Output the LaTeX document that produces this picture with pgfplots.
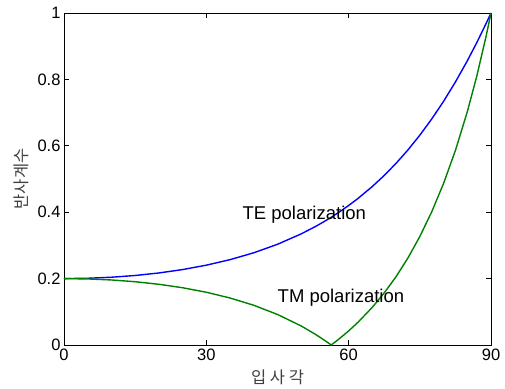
\documentclass[border=0pt]{standalone}
\usepackage{pgfplots}
\pgfplotsset{compat=1.18}
\usepackage{fontspec}
\setmainfont{Liberation Sans}
\newfontfamily\kr{Noto Sans CJK KR}
\begin{document}
\begin{tikzpicture}
\begin{axis}[
  name=ax,
  scale only axis, width=427pt, height=332pt,
  xmin=0, xmax=90, ymin=0, ymax=1,
  xtick={0,30,60,90}, ytick={0,0.2,0.4,0.6,0.8,1},
  yticklabels={0,0.2,0.4,0.6,0.8,1},
  tick align=inside, major tick length=5pt,
  xtick pos=both, ytick pos=both,
  tick style={black, line width=0.6pt},
  axis line style={line width=0.8pt},
  /pgf/number format/assume math mode=true,
  ticklabel style={font=\fontsize{16.5}{18}\selectfont},
  xlabel={\kr 입 사 각}, ylabel={\kr 반사계수},
  label style={font=\fontsize{16.5}{18}\selectfont, text=black!75},
  xlabel style={at={(axis description cs:0.5,-0.097)}, anchor=center},
  ylabel style={at={(axis description cs:-0.101,0.5)}, anchor=center},
  clip=false,
]
\addplot[blue, line width=1.4pt] coordinates {
(0,0.2) (5,0.20102) (10,0.20411) (15,0.20937) (20,0.21698) (25,0.22721) (30,0.24041)
(35,0.25706) (40,0.27777) (45,0.30334) (50,0.33474) (53,0.35688) (55,0.37319)
(56.31,0.38462) (58,0.40027) (60,0.42020) (62,0.44180) (65,0.47756) (67.5,0.51076)
(70,0.54735) (72.5,0.58765) (75,0.63195) (77.5,0.68059) (80,0.73389) (82.5,0.79218)
(85,0.85577) (87,0.91066) (89,0.96926) (90,1)
};
\addplot[black!50!green, line width=1.4pt] coordinates {
(0,0.2) (5,0.19898) (10,0.19589) (15,0.19060) (20,0.18290) (25,0.17248) (30,0.15890)
(35,0.14155) (40,0.11962) (45,0.09201) (50,0.05725) (53,0.03215) (55,0.01334)
(56.31,0) (58,0.01850) (60,0.04245) (62,0.06888) (65,0.11386) (67.5,0.15698)
(70,0.20613) (72.5,0.26232) (75,0.32675) (77.5,0.40091) (80,0.48663) (82.5,0.58616)
(85,0.70232) (87,0.80961) (89,0.93215) (90,1)
};
\node[font=\fontsize{18.5}{20}\selectfont, anchor=west, inner sep=0pt] at (axis cs:37.6,0.392) {TE polarization};
\node[font=\fontsize{18.5}{20}\selectfont, anchor=west, inner sep=0pt] at (axis cs:45.0,0.142) {TM polarization};
\end{axis}
\path ([shift={(-64pt,-43pt)}]ax.south west) rectangle ([shift={(14pt,13pt)}]ax.north east);
\end{tikzpicture}
\end{document}
